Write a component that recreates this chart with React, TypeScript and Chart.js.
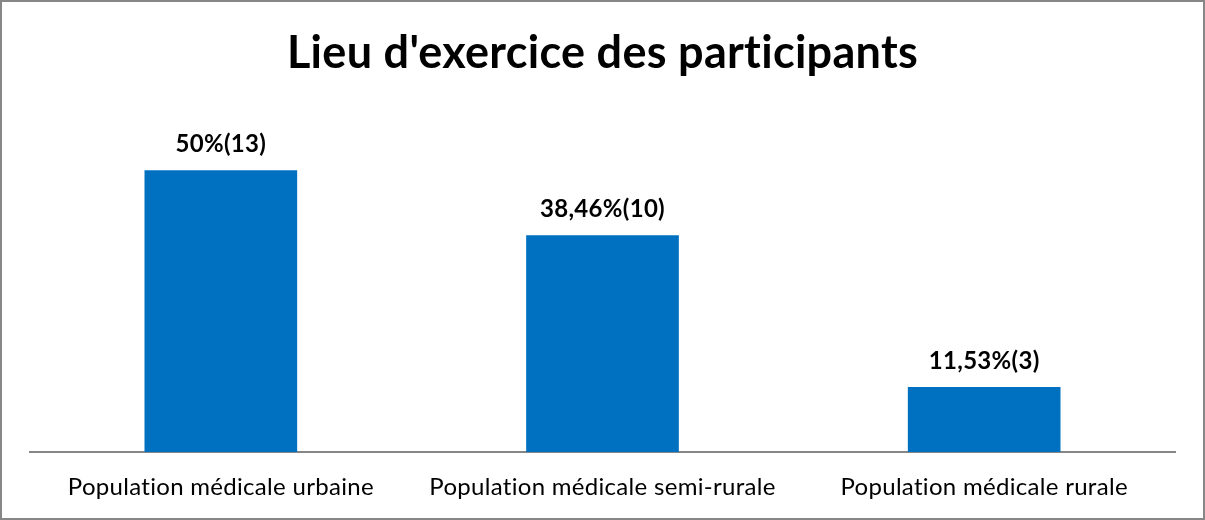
import React, { useEffect, useRef } from "react";
import { Chart, registerables } from "chart.js";

Chart.register(...registerables);

const categories = [
  "Population médicale urbaine",
  "Population médicale semi-rurale",
  "Population médicale rurale",
];
const percentages = [50, 38.46, 11.53];
const valueLabels = ["50%(13)", "38,46%(10)", "11,53%(3)"];
const titleText = "Lieu d'exercice des participants";

const FONT = "Lato, 'Open Sans', sans-serif";

const spacingPlugin = {
  id: "noLigatures",
  beforeInit(chart: any) {
    chart.ctx.letterSpacing = "0.3px";
  },
  beforeDraw(chart: any) {
    chart.ctx.letterSpacing = "0.3px";
  },
};

const valueLabelPlugin = {
  id: "valueLabels",
  afterDatasetsDraw(chart: any) {
    const ctx = chart.ctx;
    const meta = chart.getDatasetMeta(0);
    ctx.save();
    ctx.font = `bold 24px ${FONT}`;
    ctx.fillStyle = "#000000";
    ctx.textAlign = "center";
    ctx.textBaseline = "alphabetic";
    meta.data.forEach((bar: any, i: number) => {
      ctx.fillText(valueLabels[i], bar.x, bar.y - 18);
    });
    ctx.restore();
  },
};

const borderPlugin = {
  id: "outerBorder",
  afterDraw(chart: any) {
    const ctx = chart.ctx;
    ctx.save();
    ctx.strokeStyle = "#878787";
    ctx.lineWidth = 2;
    ctx.strokeRect(1, 1, chart.width - 2, chart.height - 2);
    ctx.restore();
  },
};

export default function App() {
  const ref = useRef<HTMLCanvasElement | null>(null);
  useEffect(() => {
    if (!ref.current) return;
    const chart = new Chart(ref.current, {
      type: "bar",
      data: {
        labels: categories,
        datasets: [
          {
            data: percentages,
            backgroundColor: "#0070C0",
            barPercentage: 0.4,
            categoryPercentage: 1,
          },
        ],
      },
      options: {
        animation: false,
        responsive: false,
        maintainAspectRatio: false,
        layout: { padding: { left: 30, right: 30, top: 0, bottom: -2 } },
        plugins: {
          legend: { display: false },
          tooltip: { enabled: false },
          title: {
            display: true,
            text: titleText,
            color: "#000000",
            font: { family: FONT, size: 45, weight: "bold", lineHeight: 1.2 },
            padding: { top: 26.5, bottom: 33.5 },
          },
        },
        scales: {
          x: {
            grid: { display: false, drawTicks: false },
            border: { display: true, color: "#868686", width: 2 },
            ticks: {
              color: "#000000",
              font: { family: FONT, size: 24, lineHeight: 1.2 },
              padding: 20.6,
              maxRotation: 0,
              autoSkip: false,
            },
          },
          y: {
            display: false,
            min: 0,
            max: 60,
          },
        },
      },
      plugins: [spacingPlugin, valueLabelPlugin, borderPlugin],
    });
    return () => chart.destroy();
  }, []);
  return (
    <div style={{ position: "absolute", left: 0, top: 0, width: 1205, height: 520, background: "#fff" }}>
      <canvas ref={ref} width={1205} height={520} style={{ display: "block" }} />
    </div>
  );
}
